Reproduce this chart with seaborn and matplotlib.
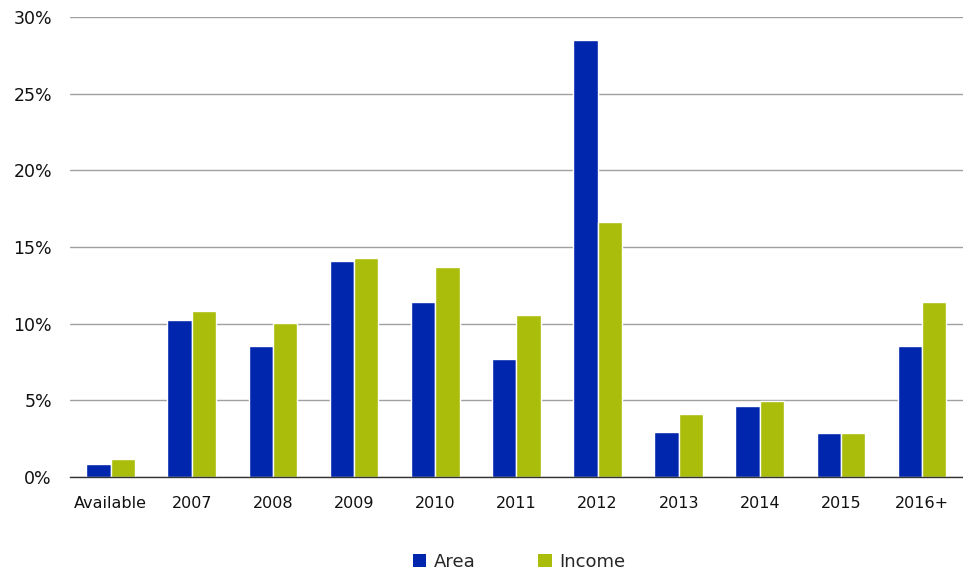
import matplotlib
matplotlib.use("Agg")
import matplotlib.pyplot as plt
import seaborn as sns
import pandas as pd
import numpy as np
from matplotlib.ticker import FuncFormatter, FixedLocator
from matplotlib.patches import Patch

categories = ["Available", "2007", "2008", "2009", "2010", "2011", "2012", "2013", "2014", "2015", "2016+"]
area = [0.85, 10.24, 8.54, 14.09, 11.42, 7.7, 28.5, 2.94, 4.63, 2.87, 8.54]
income = [1.17, 10.83, 10.05, 14.29, 13.7, 10.57, 16.63, 4.11, 4.96, 2.87, 11.42]
series = ["Area", "Income"]
colors = ["#0026AE", "#A9BD0A"]

df = pd.DataFrame({
    "category": categories * 2,
    "value": area + income,
    "series": [series[0]] * len(categories) + [series[1]] * len(categories),
})

sns.set_style("white")
plt.rcParams['font.family'] = ['DejaVu Sans']

fig = plt.figure(figsize=(9.63, 5.72), dpi=100)
ax = fig.add_axes([0.0727, 0.166, 0.927, 0.804])

sns.barplot(data=df, x="category", y="value", hue="series", palette=colors,
            width=0.6, edgecolor="white", linewidth=1, ax=ax, legend=False,
            saturation=1, errorbar=None)

ax.set_ylim(0, 30)
ax.set_xlim(-0.5, len(categories) - 0.5)
ax.set_yticks(np.arange(0, 31, 5))
ax.yaxis.set_major_formatter(FuncFormatter(lambda v, p: f"{int(v)}%"))
ax.grid(axis="y", color="#A0A0A0", linewidth=1)
ax.set_axisbelow(True)
for s in ["top", "right", "left"]:
    ax.spines[s].set_visible(False)
ax.spines["bottom"].set_color("#333333")
ax.spines["bottom"].set_linewidth(1)

ax.tick_params(axis="y", length=0, labelsize=12.5, pad=13, colors="#111111")
ax.tick_params(axis="x", which="major", length=0, labelsize=11.5, pad=14, colors="#111111")
ax.xaxis.set_minor_locator(FixedLocator(np.arange(-0.5, len(categories), 1.0)))
ax.tick_params(axis="x", which="minor", length=6, width=1, color="#333333", direction="out")
ax.set_xlabel("")
ax.set_ylabel("")

handles = [Patch(facecolor=c, edgecolor="none") for c in colors]
fig.legend(handles, series, loc="center", bbox_to_anchor=(0.539, 0.018), ncol=2,
           frameon=False, fontsize=13, handlelength=0.75, handleheight=0.75,
           handletextpad=0.4, columnspacing=3.5)

fig.savefig("out.png", dpi=100)
